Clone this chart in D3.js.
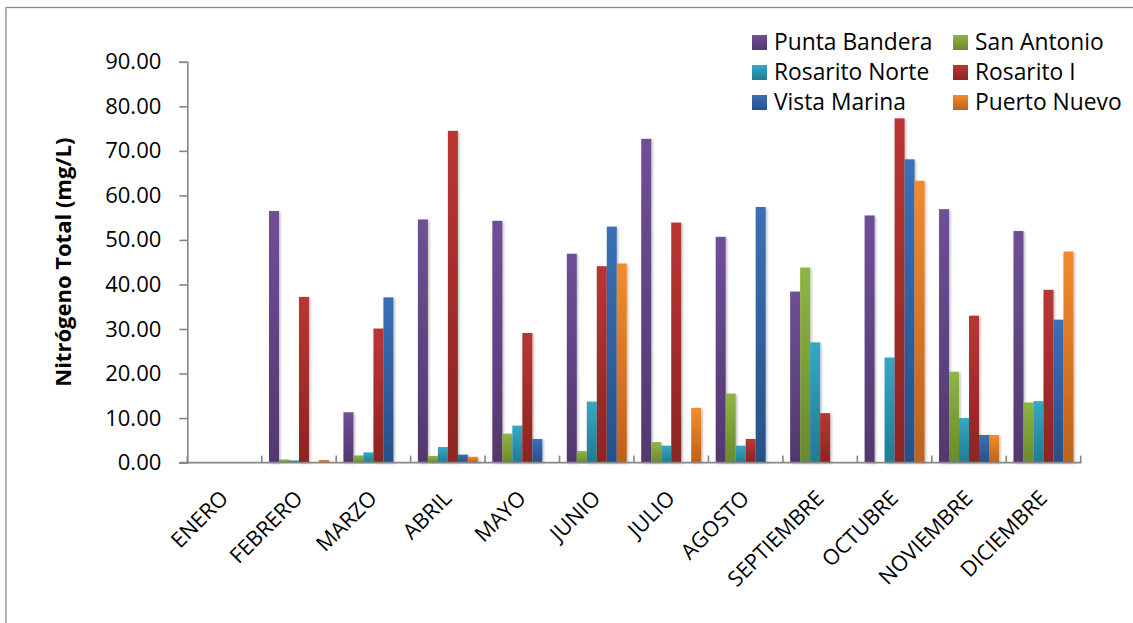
<!DOCTYPE html>
<html>
<head>
<meta charset="utf-8">
<script src="https://cdn.jsdelivr.net/npm/d3@7"></script>
<style>
  html, body { margin: 0; padding: 0; background: #fff; }
  svg { display: block; font-family: "Open Sans", "Liberation Sans", sans-serif; }
</style>
</head>
<body>
<svg id="chart" width="1133" height="623"></svg>
<script>
// ---- data ----
const months = ["ENERO","FEBRERO","MARZO","ABRIL","MAYO","JUNIO","JULIO","AGOSTO","SEPTIEMBRE","OCTUBRE","NOVIEMBRE","DICIEMBRE"];
const seriesNames = ["Punta Bandera","San Antonio","Rosarito Norte","Rosarito I","Vista Marina","Puerto Nuevo"];
const puntaBandera  = [null, 56.5, 11.3, 54.6, 54.3, 46.9, 72.7, 50.7, 38.4, 55.5, 56.9, 52.0];
const sanAntonio    = [null, 0.7, 1.6, 1.5, 6.5, 2.6, 4.6, 15.5, 43.8, null, 20.4, 13.5];
const rosaritoNorte = [null, 0.5, 2.3, 3.5, 8.3, 13.7, 3.8, 3.8, 27.0, 23.6, 10.0, 13.8];
const rosaritoI     = [null, 37.2, 30.1, 74.5, 29.1, 44.1, 53.9, 5.3, 11.1, 77.3, 33.0, 38.8];
const vistaMarina   = [null, null, 37.1, 1.8, 5.3, 53.0, null, 57.4, null, 68.1, 6.2, 32.1];
const puertoNuevo   = [null, 0.6, null, 1.3, null, 44.7, 12.3, null, null, 63.3, 6.2, 47.4];
const yTicks = [0, 10, 20, 30, 40, 50, 60, 70, 80, 90];
const yTitle = "Nitrógeno Total (mg/L)";
const colorsTop    = ["#6F4F98","#8FB545","#35A8C4","#BA3633","#3A70B5","#F48B2B"];
const colorsBottom = ["#52386F","#6A892E","#217B93","#8B2523","#27508A","#BC621A"];

const seriesValues = [puntaBandera, sanAntonio, rosaritoNorte, rosaritoI, vistaMarina, puertoNuevo];

const svg = d3.select("#chart");
const W = 1133, H = 623;
const plot = { left: 187.3, right: 1080.7, top: 61.8, bottom: 462.6 };

// outer border
svg.append("rect").attr("x", 0).attr("y", 0).attr("width", W).attr("height", H).attr("fill", "#fff");
svg.append("rect").attr("x", 6).attr("y", 7.5).attr("width", W + 20).attr("height", H + 20)
  .attr("fill", "none").attr("stroke", "#8c8c8c").attr("stroke-width", 1.3);

// gradients
const defs = svg.append("defs");
seriesNames.forEach((s, i) => {
  const g = defs.append("linearGradient").attr("id", "grad" + i)
    .attr("x1", 0).attr("y1", 0).attr("x2", 0).attr("y2", 1);
  g.append("stop").attr("offset", "0%").attr("stop-color", colorsTop[i]);
  g.append("stop").attr("offset", "100%").attr("stop-color", colorsBottom[i]);
});
const shadow = defs.append("filter").attr("id", "shadow").attr("x", "-30%").attr("y", "-5%").attr("width", "160%").attr("height", "115%");
shadow.append("feDropShadow").attr("dx", 1.5).attr("dy", 1).attr("stdDeviation", 1.2).attr("flood-color", "#000").attr("flood-opacity", 0.25);

// scales
const x0 = d3.scaleBand().domain(months).range([plot.left, plot.right]).paddingInner(0).paddingOuter(0);
const bw = x0.bandwidth();
const barW = bw / 7.45;
const gap = bw - barW * 6;
const x1 = d3.scaleBand().domain(seriesNames).range([gap / 2, bw - gap / 2]).padding(0);
const y = d3.scaleLinear().domain([0, 90]).range([plot.bottom, plot.top]);

// bars
const flat = [];
months.forEach((m, mi) => {
  seriesNames.forEach((s, si) => {
    const v = seriesValues[si][mi];
    if (v !== null && v !== undefined) flat.push({ m, s, si, v });
  });
});
svg.append("g").selectAll("rect").data(flat).join("rect")
  .attr("x", d => x0(d.m) + x1(d.s))
  .attr("y", d => y(d.v))
  .attr("width", x1.bandwidth())
  .attr("height", d => y(0) - y(d.v))
  .attr("fill", d => `url(#grad${d.si})`)
  .attr("filter", "url(#shadow)");

// y axis
const yAxis = d3.axisLeft(y).tickValues(yTicks).tickFormat(d3.format(".2f")).tickSize(8).tickPadding(18);
const gy = svg.append("g").attr("transform", `translate(${plot.left},0)`).call(yAxis);
gy.select(".domain").attr("stroke", "#868686").attr("stroke-width", 1.6);
gy.selectAll(".tick line").attr("stroke", "#868686").attr("stroke-width", 1.6);
gy.selectAll(".tick text").attr("font-size", 22).attr("fill", "#000")
  .attr("font-family", "'Open Sans', sans-serif");

// x axis (labels)
const xAxis = d3.axisBottom(x0).tickSize(0).tickFormat(d => d);
const gx = svg.append("g").attr("transform", `translate(0,${plot.bottom})`).call(xAxis);
gx.select(".domain").remove();
gx.selectAll(".tick text")
  .attr("font-size", 21.5).attr("fill", "#000").attr("font-family", "'Open Sans', sans-serif")
  .attr("text-anchor", "end").attr("dy", 0).attr("y", 0)
  .attr("transform", "translate(5,37) rotate(-45)");

// baseline + category boundary ticks
const boundaries = months.map(m => x0(m)).concat([x0.range()[1]]);
svg.append("line").attr("x1", plot.left - 8).attr("x2", plot.right + 0.8)
  .attr("y1", plot.bottom).attr("y2", plot.bottom)
  .attr("stroke", "#868686").attr("stroke-width", 1.6);
svg.append("g").selectAll("line").data(boundaries).join("line")
  .attr("x1", d => d).attr("x2", d => d)
  .attr("y1", plot.bottom).attr("y2", plot.bottom - 7)
  .attr("stroke", "#868686").attr("stroke-width", 1.6);

// y title
svg.append("text")
  .attr("transform", `translate(71,${(plot.top + plot.bottom) / 2}) rotate(-90)`)
  .attr("text-anchor", "middle")
  .attr("font-size", 22).attr("font-weight", "bold").attr("fill", "#000")
  .text(yTitle);

// legend
const legend = svg.append("g");
seriesNames.forEach((s, i) => {
  const col = i % 2, row = Math.floor(i / 2);
  const lx = 752 + col * 201, ly = 35 + row * 30;
  legend.append("rect").attr("x", lx).attr("y", ly).attr("width", 15).attr("height", 15)
    .attr("fill", `url(#grad${i})`);
  legend.append("text").attr("x", lx + 22).attr("y", ly + 15)
    .attr("font-size", 22.8).attr("fill", "#000").text(s);
});
</script>
</body>
</html>
